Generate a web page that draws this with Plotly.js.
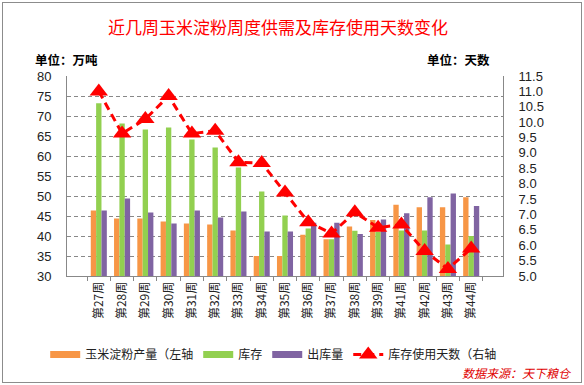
<!DOCTYPE html>
<html>
<head>
<meta charset="utf-8">
<script src="https://cdn.plot.ly/plotly-3.0.1.min.js"></script>
<style>
  html, body { margin: 0; padding: 0; background: #fff; }
  #wrap { position: relative; width: 584px; height: 385px; }
  #chart { position: absolute; left: 0; top: 0; width: 584px; height: 385px; }
  #frame { position: absolute; left: 2px; top: 2px; width: 578px; height: 379px; border: 1px solid #8c8c8c; pointer-events: none; }
</style>
</head>
<body>
<div id="wrap"><div id="chart"></div><div id="frame"></div></div>
<script>
const weeks = ["第27周","第28周","第29周","第30周","第31周","第32周","第33周","第34周","第35周","第36周","第37周","第38周","第39周","第41周","第42周","第43周","第44周"];
const production = [46.4, 44.4, 44.4, 43.6, 43.1, 42.9, 41.4, 35.0, 35.0, 40.3, 39.2, 42.4, 44.0, 47.8, 47.2, 47.2, 49.7];
const stock      = [73.2, 68.1, 66.6, 67.1, 64.1, 62.1, 57.1, 51.1, 45.1, 41.9, 39.2, 41.3, 41.0, 41.4, 41.4, 37.9, 40.0];
const shipments  = [46.4, 49.4, 45.9, 43.1, 46.4, 44.6, 46.1, 41.1, 41.1, 43.3, 43.3, 40.5, 44.1, 45.7, 49.7, 50.6, 47.5];
const stockDays  = [11.0, 9.63, 10.1, 10.85, 9.63, 9.72, 8.7, 8.67, 7.71, 6.75, 6.38, 7.07, 6.57, 6.67, 5.81, 5.23, 5.89];

const names = ["玉米淀粉产量（左轴", "库存", "出库量", "库存使用天数（右轴"];
const colors = ["#F79646", "#92D050", "#8064A2", "#FF0000"];

const font = "'Liberation Sans', Arial, 'Noto Sans CJK SC', sans-serif";
const cjk = "'Noto Sans CJK SC', 'Liberation Sans', sans-serif";

const barSeries = [production, stock, shipments];
const traces = [];
barSeries.forEach((vals, i) => {
  traces.push({
    type: 'bar', x: weeks, y: vals, name: names[i],
    marker: { color: colors[i] }, showlegend: false, yaxis: 'y', hoverinfo: 'skip'
  });
});
// legend entries (flat wide swatches like the original)
barSeries.forEach((vals, i) => {
  traces.push({
    type: 'scatter', mode: 'lines', x: [null], y: [null], name: names[i],
    line: { color: colors[i], width: 7 }, showlegend: true, yaxis: 'y'
  });
});
traces.push({
  type: 'scatter', mode: 'lines+markers', x: weeks, y: stockDays, name: names[3],
  yaxis: 'y2',
  line: { color: colors[3], width: 3, dash: '8px,5px' },
  marker: { symbol: 'triangle-up', size: 16, color: colors[3] }
});

const layout = {
  width: 584, height: 385,
  margin: { l: 67, r: 81, t: 76, b: 109 },
  paper_bgcolor: '#fff', plot_bgcolor: '#fff',
  barmode: 'group', bargap: 0.31, bargroupgap: 0,
  font: { family: font, size: 12, color: '#222' },
  title: {
    text: '近几周玉米淀粉周度供需及库存使用天数变化',
    font: { family: cjk, size: 17, color: '#FF0000' },
    xref: 'container', yref: 'container', x: 0.476, y: 0.927, xanchor: 'center', yanchor: 'middle'
  },
  xaxis: {
    type: 'category', tickangle: -90, tickson: 'boundaries', ticks: 'outside', ticklen: 4,
    tickcolor: '#888', showline: true, linecolor: '#888', linewidth: 1,
    tickfont: { family: cjk, size: 12, color: '#222' }, showgrid: false, zeroline: false
  },
  yaxis: {
    range: [30, 80], dtick: 5, showgrid: true, gridcolor: '#888', griddash: '4px,3px', gridwidth: 1,
    showline: true, linecolor: '#888', ticks: '', tickfont: { family: font, size: 13, color: '#222' },
    zeroline: false, ticklabelstandoff: 12
  },
  yaxis2: {
    overlaying: 'y', side: 'right', range: [5, 11.5], dtick: 0.5, tickformat: '.1f',
    showgrid: false, showline: true, linecolor: '#888', ticks: '',
    tickfont: { family: font, size: 13, color: '#222' }, zeroline: false, ticklabelstandoff: 12
  },
  legend: {
    orientation: 'h', x: -0.05, y: -0.32, xanchor: 'left', yanchor: 'top',
    font: { family: cjk, size: 12, color: '#222' }, itemwidth: 30, traceorder: 'normal',
    bgcolor: 'rgba(0,0,0,0)'
  },
  annotations: [
    { text: '<b>单位：万吨</b>', xref: 'paper', yref: 'paper', x: -0.078, y: 1.08, xanchor: 'left', yanchor: 'middle',
      showarrow: false, font: { family: cjk, size: 12.5, color: '#000' } },
    { text: '<b>单位：天数</b>', xref: 'paper', yref: 'paper', x: 0.82, y: 1.08, xanchor: 'left', yanchor: 'middle',
      showarrow: false, font: { family: cjk, size: 12.5, color: '#000' } },
    { text: '<i>数据来源：天下粮仓</i>', xref: 'paper', yref: 'paper', x: 1.162, y: -0.48, xanchor: 'right', yanchor: 'middle',
      showarrow: false, font: { family: cjk, size: 12, color: '#E00000' } }
  ]
};

Plotly.newPlot('chart', traces, layout, { displayModeBar: false, staticPlot: true });
</script>
</body>
</html>
